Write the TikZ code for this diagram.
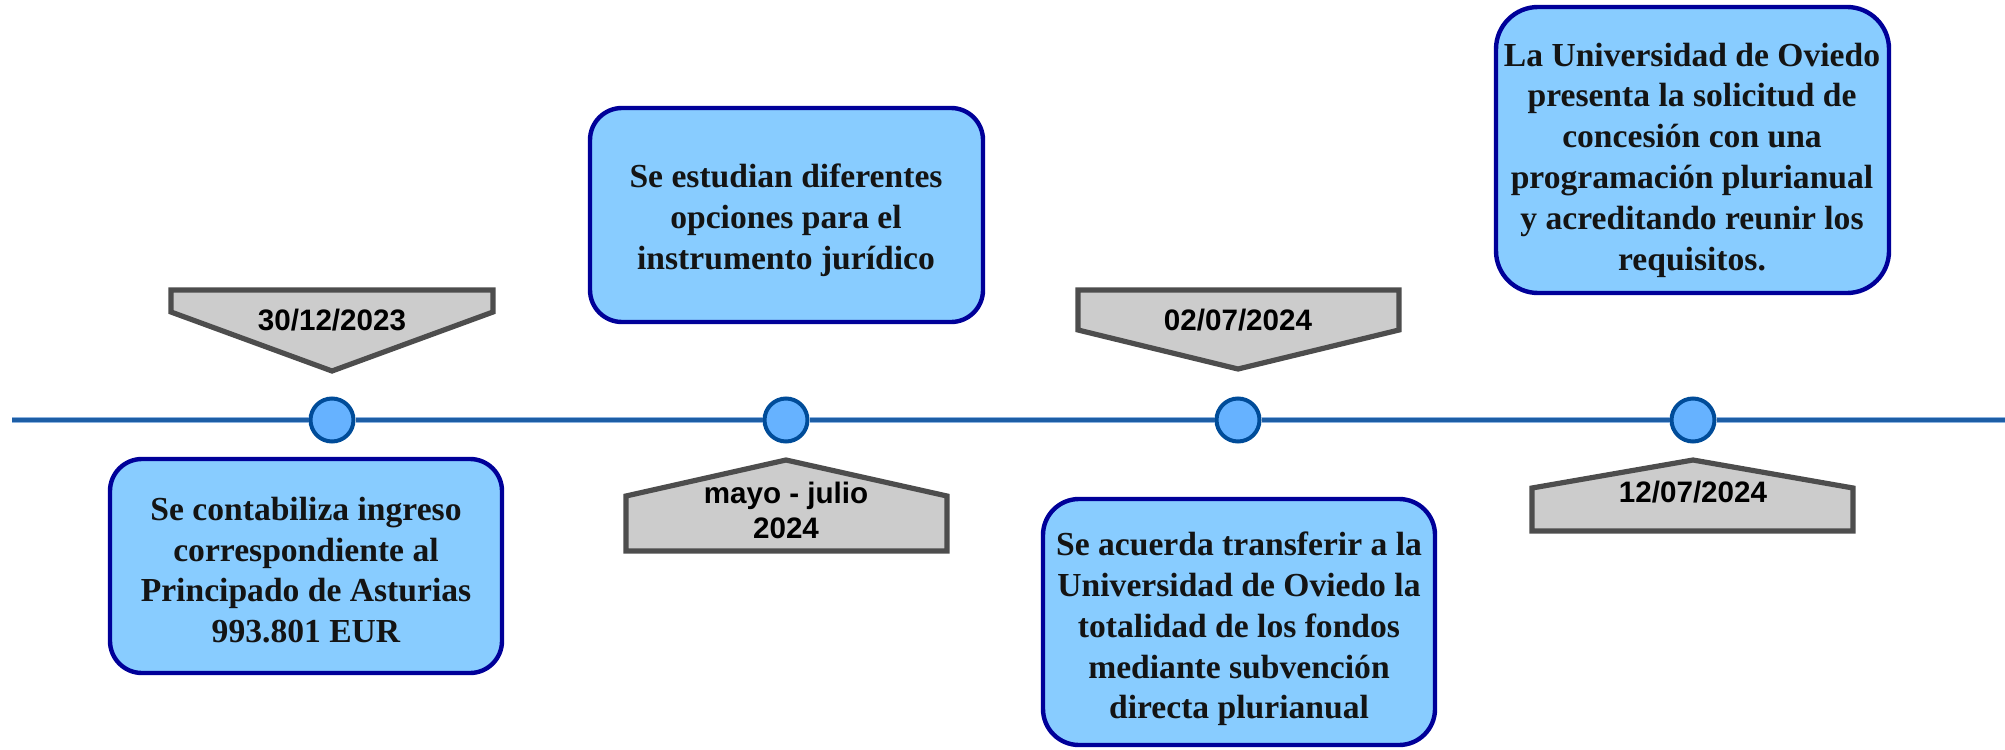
\documentclass[tikz,border=0pt]{standalone}
\usepackage{fontspec}
\setmainfont{Liberation Serif}
\newfontfamily\datumfont{Liberation Sans}
\definecolor{kastenblau}{HTML}{88CCFF}
\definecolor{kastenrand}{HTML}{000099}
\definecolor{punktblau}{HTML}{66B2FF}
\definecolor{punktrand}{HTML}{004C99}
\definecolor{achsdunkel}{HTML}{1D5EA6}
\definecolor{achshell}{HTML}{8DB3DF}
\definecolor{grau}{HTML}{CCCCCC}
\definecolor{graurand}{HTML}{4D4D4D}
\begin{document}
\begin{tikzpicture}[x=0.5pt,y=-0.5pt,line join=miter,
	ereignis/.style={draw=kastenrand,fill=kastenblau,line width=2.2pt},
	etext/.style={align=center,text=black!92,inner sep=0pt,font=\bfseries\fontsize{16.8}{20.4}\selectfont},
	datum/.style={draw=graurand,fill=grau,line width=2.6pt},
	dtext/.style={align=center,inner sep=0pt,font=\datumfont\bfseries\fontsize{14.8}{17.5}\selectfont},
	punkt/.style={circle,draw=punktrand,fill=punktblau,line width=2pt,minimum size=21.5pt,inner sep=0pt},
	achse/.style={draw=achshell,line width=0.9pt,double=achsdunkel,double distance=1.6pt}]
	\useasboundingbox (0,0) rectangle (2005,749);
	% Zeitachse
	\coordinate (links) at (12,420);
	\coordinate (rechts) at (2005,420);
	\node[punkt] (p1) at (332,420) {};
	\node[punkt] (p2) at (786,420) {};
	\node[punkt] (p3) at (1238,420) {};
	\node[punkt] (p4) at (1693,420) {};
	\draw[achse] (links) -- (p1) -- (p2) -- (p3) -- (p4) -- (rechts);
	% Termine
	\draw[datum] (171,290) -- (493,290) -- (493,312) -- (332,371) -- (171,312) -- cycle;
	\draw[datum] (626,551) -- (626,496) -- (786,460) -- (947,496) -- (947,551) -- cycle;
	\draw[datum] (1078,290) -- (1399,290) -- (1399,330) -- (1238,369) -- (1078,330) -- cycle;
	\draw[datum] (1532,531) -- (1532,488) -- (1693,460) -- (1853,488) -- (1853,531) -- cycle;
	\node[dtext] (d1) at (332,320) {30/12/2023};
	\node[dtext] (d2) at (786,510) {mayo - julio\\2024};
	\node[dtext] (d3) at (1238,320) {02/07/2024};
	\node[dtext] (d4) at (1693,492) {12/07/2024};
	% Ereignisse
	\draw[ereignis,rounded corners=16pt] (110,459) rectangle (502,673);
	\draw[ereignis,rounded corners=16pt] (590,108) rectangle (983,322);
	\draw[ereignis,rounded corners=18pt] (1043,499) rectangle (1435,745);
	\draw[ereignis,rounded corners=21pt] (1496,7) rectangle (1889,293);
	\node[etext] (e1) at (306,570) {Se contabiliza ingreso\\correspondiente al\\Principado de Asturias\\993.801 EUR};
	\node[etext] (e2) at (786,220) {Se estudian diferentes\\opciones para el\\instrumento jurídico};
	\node[etext] (e3) at (1239,629) {Se acuerda transferir a la\\Universidad de Oviedo la\\totalidad de los fondos\\mediante subvención\\directa plurianual};
	\node[etext] (e4) at (1692,160) {La Universidad de Oviedo\\presenta la solicitud de\\concesión con una\\programación plurianual\\y acreditando reunir los\\requisitos.};
\end{tikzpicture}
\end{document}
